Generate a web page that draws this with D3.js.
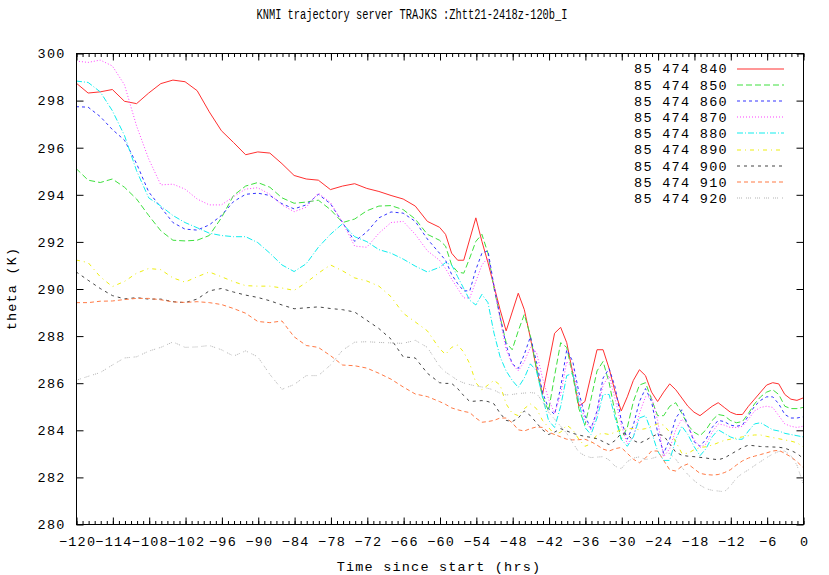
<!DOCTYPE html>
<html><head><meta charset="utf-8">
<script src="https://cdn.jsdelivr.net/npm/d3@7"></script>
<style>
html,body{margin:0;padding:0;background:#fff;}
svg{display:block;}
</style></head>
<body>
<svg id="chart" width="829" height="575"></svg>
<script>
const title = "KNMI trajectory server TRAJKS :Zhtt21-2418z-120b_I";
const xLabel = "Time since start (hrs)";
const yLabel = "theta (K)";
const xTicks = [-120,-114,-108,-102,-96,-90,-84,-78,-72,-66,-60,-54,-48,-42,-36,-30,-24,-18,-12,-6,0];
const yTicks = [280,282,284,286,288,290,292,294,296,298,300];
const seriesNames = ["85 474 840","85 474 850","85 474 860","85 474 870","85 474 880","85 474 890","85 474 900","85 474 910","85 474 920"];

const times = [-120,-118,-116,-114,-112,-110,-108,-106,-104,-102,-100,-98,-96,-94,-92,-90,-88,-86,-84,-82,-80,-78,-76,-74,-72,-70,-68,-66,-64,-62,
-60,-59,-58,-57,-56,-55,-54,-53,-52,-51,-50,-49,-48,-47,-46,-45,-44,-43,-42,-41,-40,-39,-38,-37,-36,-35,-34,-33,-32,-31,-30,-29,-28,-27,-26,-25,-24,-23,-22,-21,-20,-19,-18,-17,-16,-15,-14,-13,-12,-11,-10,-9,-8,-7,-6,-5,-4,-3,-2,-1,0];

const s840 = [298.73,298.3,298.35,298.45,297.95,297.85,298.3,298.7,298.85,298.78,298.4,297.5,296.7,296.2,295.68,295.8,295.75,295.3,294.8,294.65,294.6,294.2,294.35,294.45,294.25,294.12,293.95,293.8,293.5,292.85,
292.6,292.3,291.5,291.2,291.2,292.1,293.0,292.0,291.1,290.1,289.1,288.2,289.0,289.8,289.1,287.9,286.6,285.5,286.8,288.1,288.35,287.7,286.4,285.0,285.2,286.3,287.4,287.4,286.6,285.6,284.8,285.4,286.1,286.55,286.3,285.6,285.2,285.6,285.95,285.7,285.35,285.0,284.75,284.6,284.8,285.0,285.15,284.95,284.75,284.65,284.65,285.0,285.3,285.6,285.9,286.0,285.95,285.5,285.3,285.25,285.35];
const s850 = [295.1,294.6,294.5,294.65,294.3,293.8,293.1,292.45,292.05,292.02,292.05,292.25,293.0,293.95,294.35,294.5,294.3,293.85,293.62,293.67,293.75,293.35,292.8,292.95,293.3,293.5,293.52,293.35,292.95,292.3,
292.05,291.8,291.0,290.7,290.65,291.3,292.0,292.3,291.5,290.0,288.8,287.7,287.4,288.2,288.9,288.0,286.6,285.4,284.8,286.3,287.7,287.5,286.3,284.9,284.2,285.3,286.5,286.9,286.0,284.7,283.6,284.1,285.2,285.9,286.0,285.3,284.6,284.6,285.0,285.15,284.7,284.2,283.9,283.75,284.0,284.4,284.65,284.6,284.4,284.3,284.35,284.7,285.1,285.4,285.6,285.7,285.5,285.0,284.9,284.9,284.95];
const s860 = [297.72,297.7,297.3,296.75,296.3,295.3,294.1,293.45,292.8,292.52,292.48,292.7,293.1,293.69,294.0,294.05,293.95,293.6,293.38,293.55,294.0,293.6,292.8,292.0,292.4,293.0,293.25,293.2,292.85,292.1,
291.5,291.2,290.6,290.2,289.9,289.9,290.8,291.5,291.6,290.1,288.8,287.6,286.8,286.6,287.2,287.95,286.9,285.6,284.9,284.65,285.8,287.4,286.9,285.6,284.6,284.05,284.8,286.2,286.6,285.8,284.4,283.6,284.2,285.2,285.75,285.2,283.9,283.0,283.6,284.5,284.85,284.2,283.5,283.3,283.6,284.1,284.4,284.35,284.2,284.15,284.2,284.6,285.0,285.25,285.4,285.4,285.1,284.65,284.5,284.5,284.55];
const s870 = [299.66,299.6,299.7,299.45,298.65,296.9,295.5,294.4,294.43,294.22,293.8,293.55,293.55,293.9,294.22,294.28,294.0,293.55,293.26,293.45,294.05,293.65,292.8,291.8,291.75,292.35,292.8,292.85,292.3,291.6,
291.2,290.85,290.4,290.0,289.6,289.6,290.3,291.0,291.3,290.1,288.7,287.4,286.8,286.5,286.9,287.5,287.3,286.2,285.3,284.7,285.5,286.9,286.6,285.4,284.4,284.0,284.7,285.9,286.3,285.3,284.2,283.4,283.7,284.7,285.4,285.4,284.4,282.85,283.2,284.0,284.45,284.2,283.6,283.25,283.4,283.9,284.25,284.2,284.1,284.1,284.15,284.45,284.8,284.95,285.0,284.95,284.6,284.25,284.15,284.1,284.15];
const s880 = [298.81,298.75,298.35,297.55,296.5,295.0,293.85,293.5,293.1,292.8,292.58,292.35,292.25,292.2,292.2,291.95,291.5,291.0,290.72,291.05,291.75,292.3,292.75,292.2,291.99,291.65,291.5,291.25,290.95,290.7,
290.9,291.1,291.0,290.5,290.0,289.5,289.3,289.75,289.4,288.1,287.1,286.5,286.1,285.8,286.2,286.8,286.5,285.4,284.4,284.1,285.0,286.3,286.4,285.2,284.1,283.8,284.5,285.5,285.5,284.5,283.6,283.3,283.7,284.5,284.6,283.9,283.1,282.7,282.7,283.6,284.15,283.8,283.3,282.9,283.2,283.7,284.0,283.85,283.7,283.6,283.6,283.95,284.25,284.3,284.15,284.0,283.95,283.85,283.8,283.75,283.7];
const s890 = [291.21,291.1,290.5,290.08,290.3,290.65,290.85,290.8,290.45,290.27,290.5,290.7,290.5,290.29,290.12,290.1,290.1,290.02,289.92,290.25,290.65,291.0,290.75,290.45,290.32,290.1,289.65,288.95,288.58,288.2,
287.45,287.2,287.5,287.6,287.3,286.8,286.0,285.7,285.9,286.1,285.9,285.1,284.7,284.6,284.9,285.1,284.9,284.4,284.1,283.8,283.9,284.2,284.0,283.6,283.3,283.4,283.8,283.85,283.8,283.9,284.0,284.05,284.05,284.0,284.05,284.15,284.25,284.2,283.9,283.5,283.0,283.0,283.15,283.25,283.28,283.35,283.45,283.55,283.6,283.65,283.7,283.75,283.78,283.78,283.72,283.67,283.62,283.57,283.52,283.45,283.28];
const s900 = [290.71,290.35,290.0,289.7,289.56,289.61,289.55,289.55,289.44,289.4,289.55,289.9,290.0,289.85,289.72,289.62,289.48,289.3,289.14,289.18,289.22,289.15,289.1,289.0,288.65,288.3,287.85,287.1,287.05,286.4,
286.0,285.97,285.97,285.75,285.45,285.2,285.22,285.24,285.2,285.1,284.7,284.4,284.35,284.5,284.8,284.6,284.3,284.0,283.8,283.9,284.05,283.95,283.85,283.78,283.72,283.68,283.62,283.5,283.37,283.55,283.85,283.8,283.55,283.43,283.55,283.7,283.82,283.75,283.4,283.05,282.92,282.88,282.86,282.83,282.8,282.76,282.73,282.8,282.95,283.1,283.25,283.35,283.32,283.29,283.28,283.27,283.26,283.22,283.12,283.0,282.79];
const s910 = [289.4,289.4,289.46,289.47,289.53,289.58,289.58,289.52,289.43,289.41,289.44,289.4,289.32,289.15,288.95,288.6,288.55,288.62,287.95,287.58,287.5,287.15,286.75,286.72,286.62,286.4,286.15,285.82,285.52,285.41,
285.2,285.08,284.93,284.85,284.78,284.73,284.5,284.32,284.35,284.4,284.5,284.5,284.3,284.0,283.95,284.05,284.12,284.1,283.9,283.8,283.7,283.6,283.57,283.58,283.6,283.5,283.35,283.18,283.1,283.2,283.25,283.0,282.75,282.6,282.8,283.1,283.1,282.7,282.3,282.25,282.45,282.55,282.35,282.15,282.1,282.08,282.1,282.18,282.3,282.5,282.68,282.8,282.88,282.95,283.02,283.1,283.13,283.0,282.85,282.65,282.4];
const s920 = [286.1,286.27,286.43,286.75,287.05,287.1,287.34,287.5,287.73,287.5,287.52,287.58,287.4,287.13,287.35,287.1,286.35,285.72,285.92,286.3,286.3,286.75,287.38,287.72,287.74,287.71,287.69,287.67,287.8,287.5,
286.7,286.45,286.28,286.1,285.99,285.92,285.86,285.82,285.76,285.69,285.55,285.48,285.5,285.54,285.56,285.58,285.55,285.2,284.75,284.45,284.15,283.85,283.45,283.05,282.9,282.82,282.84,282.86,282.72,282.45,282.35,282.65,282.8,282.85,282.74,282.78,282.86,282.95,283.0,282.75,282.4,282.1,281.85,281.65,281.5,281.43,281.4,281.37,281.6,281.95,282.15,282.3,282.48,282.65,282.82,282.97,283.08,283.1,282.9,282.5,281.73];

const seriesValues = [s840,s850,s860,s870,s880,s890,s900,s910,s920];
const colors = ["#ff3030","#3ee03e","#3535ff","#ff40ff","#10eeee","#eeee10","#454545","#ff7a45","#b4b4b4"];
const dashes = [null,"6,3","3,3","1,2","6,2,1,2","4,4,1,4","3,4","4,3","1,1,1,1,1,4"];

const W = 829, H = 575;
const L = 76, R = 803, T = 53, B = 524;
const svg = d3.select("#chart");
const x = d3.scaleLinear().domain([-120, 0]).range([L, R]);
const y = d3.scaleLinear().domain([280, 300]).range([B, T]);
const FONT = "'Liberation Mono','DejaVu Sans Mono',monospace";

// title
svg.append("text").attr("x", 412).attr("y", 19).attr("text-anchor", "middle")
  .attr("textLength", 311).attr("lengthAdjust", "spacingAndGlyphs")
  .style("font-family", FONT).style("font-size", "14px")
  .attr("fill", "#000").text(title);

// clip
svg.append("defs").append("clipPath").attr("id", "clip")
  .append("rect").attr("x", L).attr("y", T).attr("width", R - L).attr("height", B - T);

// lines
const line = d3.line().x((d, i) => x(times[i])).y(d => y(d));
const lg = svg.append("g").attr("clip-path", "url(#clip)");
seriesValues.forEach((vals, k) => {
  lg.append("path").datum(vals).attr("d", line)
    .attr("fill", "none").attr("stroke", colors[k]).attr("stroke-width", 1)
    .attr("stroke-dasharray", dashes[k]);
});

// axes
const minorTicks = d3.range(-120, 1, 1);
function styleAxis(g) {
  g.select(".domain").remove();
  g.selectAll("line").attr("stroke", "#000");
  g.selectAll("text").style("font-family", FONT).style("font-size", "13.5px")
    .style("letter-spacing", "1.2px").attr("fill", "#000");
}
const axB = svg.append("g").attr("transform", `translate(0.5,${B + 0.5})`)
  .call(d3.axisBottom(x).tickValues(xTicks).tickSizeInner(-7).tickSizeOuter(0).tickPadding(12).tickFormat(d3.format("d")));
styleAxis(axB);
axB.selectAll("text").attr("dx", "0.6px");
const axBm = svg.append("g").attr("transform", `translate(0.5,${B + 0.5})`)
  .call(d3.axisBottom(x).tickValues(minorTicks).tickSizeInner(-3.5).tickSizeOuter(0).tickFormat(""));
styleAxis(axBm);
const axT = svg.append("g").attr("transform", `translate(0.5,${T + 0.5})`)
  .call(d3.axisTop(x).tickValues(xTicks).tickSizeInner(-7).tickSizeOuter(0).tickFormat(""));
styleAxis(axT);
const axTm = svg.append("g").attr("transform", `translate(0.5,${T + 0.5})`)
  .call(d3.axisTop(x).tickValues(minorTicks).tickSizeInner(-3.5).tickSizeOuter(0).tickFormat(""));
styleAxis(axTm);
const axL = svg.append("g").attr("transform", `translate(${L + 0.5},0.5)`)
  .call(d3.axisLeft(y).tickValues(yTicks).tickSizeInner(-7).tickSizeOuter(0).tickPadding(11).tickFormat(d3.format("d")));
styleAxis(axL);
const axR = svg.append("g").attr("transform", `translate(${R + 0.5},0.5)`)
  .call(d3.axisRight(y).tickValues(yTicks).tickSizeInner(-7).tickSizeOuter(0).tickFormat(""));
styleAxis(axR);

// frame
svg.append("rect").attr("x", L + 0.5).attr("y", T + 0.5).attr("width", R - L).attr("height", B - T)
  .attr("fill", "none").attr("stroke", "#000").attr("stroke-width", 1);

// axis labels
svg.append("text").attr("x", 439).attr("y", 571).attr("text-anchor", "middle")
  .style("font-family", FONT).style("font-size", "13.5px").style("letter-spacing", "1.2px")
  .attr("fill", "#000").text(xLabel);
svg.append("text").attr("transform", `translate(16,${(T + B) / 2}) rotate(-90)`).attr("text-anchor", "middle")
  .style("font-family", FONT).style("font-size", "13.5px").style("letter-spacing", "1.2px")
  .attr("fill", "#000").text(yLabel);

// legend
const leg = svg.append("g");
seriesNames.forEach((name, k) => {
  const yy = 68.5 + k * 16.2;
  leg.append("text").attr("x", 728).attr("y", yy + 4.8).attr("text-anchor", "end")
    .style("font-family", FONT).style("font-size", "13.5px").style("letter-spacing", "1.3px")
    .attr("fill", "#000").text(name);
  leg.append("line").attr("x1", 737).attr("x2", 784).attr("y1", Math.round(yy)).attr("y2", Math.round(yy))
    .attr("stroke", colors[k]).attr("stroke-width", 1.1).attr("stroke-dasharray", dashes[k]);
});
</script>
</body></html>
